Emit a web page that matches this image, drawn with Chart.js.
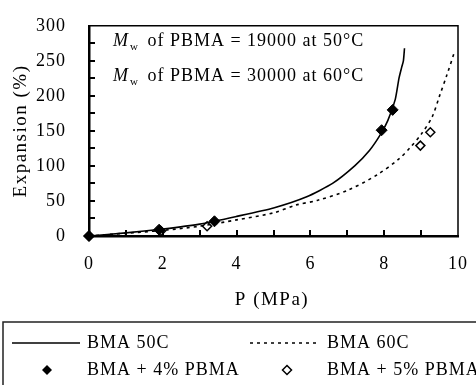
<!DOCTYPE html>
<html><head><meta charset="utf-8">
<script src="https://cdn.jsdelivr.net/npm/chart.js@4/dist/chart.umd.min.js"></script>
<style>html,body{margin:0;padding:0;background:#fff;}canvas{display:block;}</style>
</head><body>
<canvas id="c" width="476" height="385"></canvas>
<script>
// Data
const bma50P = [0, 1, 2, 3, 4, 5, 5.9, 6.6, 7.2, 7.6, 7.9, 8.1, 8.3, 8.4, 8.47, 8.52, 8.55];
const bma50E = [0, 4.5, 10, 17, 28, 40, 56, 75, 100, 122, 145, 165, 195, 225, 240, 250, 268];
const bma60P = [0, 1, 2, 3, 4, 5, 5.6, 6.2, 7, 7.8, 8.4, 8.7, 9.0, 9.3, 9.5, 9.7, 9.9];
const bma60E = [0, 4, 8, 14, 23, 33, 44, 51, 65, 87, 110, 126, 145, 170, 200, 230, 262];
const pbma4P = [0, 1.9, 3.4, 7.93, 8.23];
const pbma4E = [0, 9, 21, 151, 180];
const pbma5P = [0, 1.95, 3.2, 8.98, 9.25];
const pbma5E = [0, 7, 14, 129, 148];
const xTicks = [0, 2, 4, 6, 8, 10];
const yTicks = [0, 50, 100, 150, 200, 250, 300];
const xMinor = [1, 2, 3, 4, 5, 6, 7, 8, 9];
const yMinor = [25, 50, 75, 100, 125, 150, 175, 200, 225, 250, 275];
const legendLabels = ['BMA 50C', 'BMA 60C', 'BMA + 4% PBMA', 'BMA + 5% PBMA'];
const annotations = [['19000', '50'], ['30000', '60']];

const pts = (xs, ys) => xs.map((x, i) => ({x, y: ys[i]}));
const FONT = '"Liberation Serif", "Times New Roman", serif';

const deco = {
  id: 'deco',
  beforeDraw(chart) { chart.ctx.letterSpacing = '1px'; },
  afterDraw(chart) {
    const ctx = chart.ctx, a = chart.chartArea;
    const xs = chart.scales.x, ys = chart.scales.y;
    ctx.save();
    ctx.setLineDash([]);
    ctx.strokeStyle = '#000';
    // frame top/right
    ctx.lineWidth = 1.5;
    ctx.beginPath();
    ctx.moveTo(a.left, a.top); ctx.lineTo(a.right, a.top); ctx.lineTo(a.right, a.bottom);
    ctx.stroke();
    // inward ticks
    ctx.lineWidth = 2;
    ctx.beginPath();
    yMinor.forEach(v => {
      const y = Math.round(ys.getPixelForValue(v));
      ctx.moveTo(a.left, y); ctx.lineTo(a.left + 6, y);
    });
    xMinor.forEach(v => {
      const x = Math.round(xs.getPixelForValue(v));
      ctx.moveTo(x, a.bottom); ctx.lineTo(x, a.bottom - 6);
    });
    ctx.stroke();
    // annotations
    ctx.letterSpacing = '1px';
    ctx.fillStyle = '#000';
    ctx.textBaseline = 'alphabetic';
    ctx.textAlign = 'left';
    annotations.forEach((an, i) => {
      const y = 46 + i * 35;
      let x = 113;
      ctx.font = 'italic 18px ' + FONT;
      ctx.fillText('M', x, y);
      x += ctx.measureText('M').width;
      ctx.font = '11px ' + FONT;
      ctx.fillText('w', x + 1, y + 4);
      x += ctx.measureText('w').width + 4;
      ctx.font = '18px ' + FONT;
      ctx.fillText(' of PBMA = ' + an[0] + ' at ' + an[1] + '\u00B0C', x, y);
    });
    // axis titles
    ctx.font = '19px ' + FONT;
    ctx.letterSpacing = '1.5px';
    ctx.textAlign = 'center';
    ctx.textBaseline = 'middle';
    ctx.fillText('P (MPa)', 272, 300);
    ctx.save();
    ctx.translate(21, 131);
    ctx.rotate(-Math.PI / 2);
    ctx.fillText('Expansion (%)', 0, 0);
    ctx.restore();
    ctx.letterSpacing = '1px';
    ctx.font = '18px ' + FONT;
    // legend box
    ctx.lineWidth = 1.5;
    ctx.strokeStyle = '#222';
    ctx.strokeRect(3, 322, 480, 70);
    ctx.strokeStyle = '#000';
    const r1 = 343, r2 = 370;
    ctx.lineWidth = 1.5;
    ctx.beginPath(); ctx.moveTo(12, r1); ctx.lineTo(80, r1); ctx.stroke();
    ctx.setLineDash([3, 4]);
    ctx.beginPath(); ctx.moveTo(250, r1); ctx.lineTo(317, r1); ctx.stroke();
    ctx.setLineDash([]);
    const diamond = (cx, cy, s, fill) => {
      ctx.beginPath();
      ctx.moveTo(cx, cy - s); ctx.lineTo(cx + s, cy); ctx.lineTo(cx, cy + s); ctx.lineTo(cx - s, cy); ctx.closePath();
      if (fill) { ctx.fillStyle = '#000'; ctx.fill(); }
      else { ctx.fillStyle = '#fff'; ctx.fill(); ctx.lineWidth = 1.5; ctx.stroke(); }
    };
    diamond(47, r2, 5, true);
    diamond(287, r2, 4.5, false);
    ctx.fillStyle = '#000';
    ctx.textAlign = 'left';
    ctx.fillText(legendLabels[0], 87, r1);
    ctx.fillText(legendLabels[1], 327, r1);
    ctx.fillText(legendLabels[2], 87, r2);
    ctx.fillText(legendLabels[3], 327, r2);
    ctx.restore();
  }
};

new Chart(document.getElementById('c'), {
  type: 'scatter',
  data: {
    datasets: [
      {label: legendLabels[3], data: pts(pbma5P, pbma5E), showLine: false, clip: false, pointStyle: 'rectRot', pointRadius: 4.5, pointBackgroundColor: '#fff', pointBorderColor: '#000', pointBorderWidth: 1.5, order: 4},
      {label: legendLabels[1], data: pts(bma60P, bma60E), showLine: true, borderColor: '#000', borderWidth: 1.6, borderDash: [3, 4], pointRadius: 0, tension: 0.3, order: 3},
      {label: legendLabels[0], data: pts(bma50P, bma50E), showLine: true, borderColor: '#000', borderWidth: 1.6, pointRadius: 0, tension: 0.2, order: 2},
      {label: legendLabels[2], data: pts(pbma4P, pbma4E), showLine: false, clip: false, pointStyle: 'rectRot', pointRadius: 5.5, pointBackgroundColor: '#000', pointBorderColor: '#000', pointBorderWidth: 1, order: 1}
    ]
  },
  options: {
    responsive: false,
    animation: false,
    devicePixelRatio: 1,
    layout: {padding: {left: 0, top: 20, right: 15, bottom: 69}},
    plugins: {legend: {display: false}, tooltip: {enabled: false}},
    scales: {
      x: {
        type: 'linear', min: 0, max: 10,
        afterFit: s => { s.height = 80; },
        afterBuildTicks: s => { s.ticks = xTicks.map(v => ({value: v})); },
        grid: {display: false},
        border: {display: true, color: '#000', width: 2.5},
        ticks: {color: '#000', font: {family: FONT, size: 18}, padding: 9, maxRotation: 0}
      },
      y: {
        type: 'linear', min: 0, max: 300,
        afterFit: s => { s.width = 89; },
        afterBuildTicks: s => { s.ticks = yTicks.map(v => ({value: v})); },
        grid: {display: false},
        border: {display: true, color: '#000', width: 2.5},
        ticks: {color: '#000', font: {family: FONT, size: 18}, padding: 15}
      }
    }
  },
  plugins: [deco]
});
</script>
</body></html>
